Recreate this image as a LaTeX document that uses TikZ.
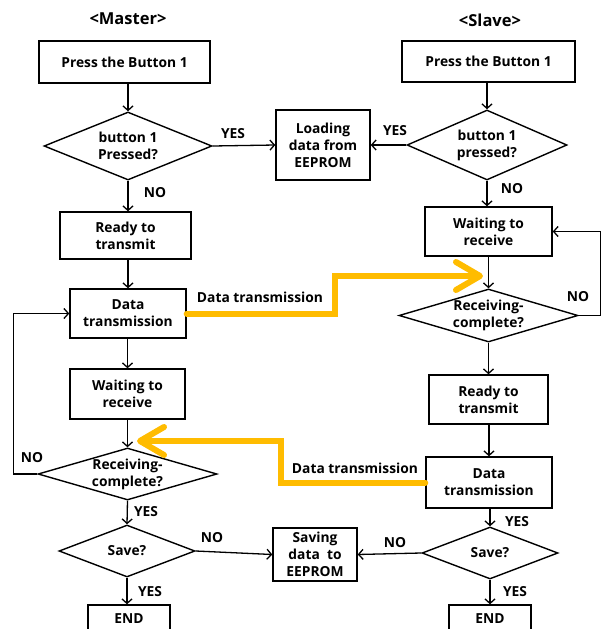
\documentclass[tikz,border=0pt]{standalone}
\usepackage{fontspec}
\setmainfont{Open Sans}[BoldFont={* Bold}]
\usetikzlibrary{shapes.geometric,arrows.meta}
\definecolor{gold}{RGB}{255,188,0}
\begin{document}
\begin{tikzpicture}[x=1pt,y=-1pt,
  every node/.style={font=\fontsize{13.8}{17}\selectfont\bfseries},
  box/.style={draw,line width=1.4pt,inner sep=0pt,align=center},
  dia/.style={draw,diamond,line width=1.4pt,inner sep=0pt},
  dtext/.style={align=center,font=\fontsize{13.8}{17}\selectfont\bfseries},
  lbl/.style={inner sep=0pt},
  flow/.style={line width=1.3pt,-{Straight Barb[length=4.5pt,width=10pt,line width=1.3pt]}},
  xfer/.style={gold,line width=6pt,line cap=round,line join=miter,-{Straight Barb[length=24pt,width=28pt,round]}}]
\clip (0,0) rectangle (604,629);
\fill[white] (0,0) rectangle (604,629);
% headers
\node[lbl,font=\fontsize{16.5}{18}\selectfont\bfseries] (hm) at (128,19) {<Master>};
\node[lbl,font=\fontsize{16.5}{18}\selectfont\bfseries] (hs) at (490,20) {<Slave>};
% master column
\node[box,minimum width=171pt,minimum height=42pt] (mpress) at (124.5,62) {Press the Button 1};
\node[dia,minimum width=168pt,minimum height=68pt,label={[dtext]center:button 1\\Pressed?}] (mdia) at (128,146) {};
\node[box,minimum width=131pt,minimum height=47pt] (mready) at (125.5,235.5) {Ready to\\transmit};
\node[box,minimum width=116pt,minimum height=49pt] (mdata) at (128,313.5) {Data\\transmission};
\node[box,minimum width=115pt,minimum height=50pt] (mwait) at (127.5,394) {Waiting to\\receive};
\node[dia,minimum width=179pt,minimum height=52pt,label={[dtext]center:Receiving-\\complete?}] (mrecv) at (127.5,474) {};
\node[dia,minimum width=136pt,minimum height=52pt,label={[dtext]center:Save?}] (msave) at (127,551) {};
\node[box,minimum width=82pt,minimum height=40pt] (mend) at (129,625) {};
\node[lbl] (mendt) at (129,619) {END};
% middle boxes
\node[box,minimum width=94pt,minimum height=70pt] (load) at (323,145) {Loading\\data from\\EEPROM};
\node[box,minimum width=84pt,minimum height=53pt] (saving) at (315,554.5) {Saving\\data\ \ to\\EEPROM};
% slave column
\node[box,minimum width=173pt,minimum height=41pt] (spress) at (488.5,61.5) {Press the Button 1};
\node[dia,minimum width=160pt,minimum height=70pt,label={[dtext]center:button 1\\pressed?}] (sdia) at (487,145) {};
\node[box,minimum width=127pt,minimum height=49pt] (swait) at (488.5,231.5) {Waiting to\\receive};
\node[dia,minimum width=179pt,minimum height=53pt,label={[dtext]center:Receiving-\\complete?}] (srecv) at (488.5,315.5) {};
\node[box,minimum width=119pt,minimum height=49pt] (sready) at (488.5,399.5) {Ready to\\transmit};
\node[box,minimum width=126pt,minimum height=51pt] (sdata) at (489,482.5) {Data\\transmission};
\node[dia,minimum width=136pt,minimum height=52pt,label={[dtext]center:Save?}] (ssave) at (490,553) {};
\node[box,minimum width=82pt,minimum height=40pt] (send) at (490,625) {};
\node[lbl] (sendt) at (490,619) {END};
% labels
\node[lbl] (y1) at (233,134) {YES};
\node[lbl] (y2) at (395,131) {YES};
\node[lbl] (n1) at (155,193) {NO};
\node[lbl] (n2) at (512,189) {NO};
\node[lbl] (n3) at (578,297) {NO};
\node[lbl] (dt1) at (260,297) {Data transmission};
\node[lbl] (n4) at (32,458) {NO};
\node[lbl] (y3) at (146,512) {YES};
\node[lbl] (n5) at (212,538) {NO};
\node[lbl] (y4) at (150,592) {YES};
\node[lbl] (dt2) at (355,468) {Data transmission};
\node[lbl] (y5) at (517,522) {YES};
\node[lbl] (n6) at (395,543) {NO};
\node[lbl] (y6) at (515,592) {YES};
% master connectors
\draw[flow] (mdia.north |- mpress.south) -- (mdia.north);
\draw[flow] (mdia.east) -- (load.west);
\draw[flow] (mdia.south) -- (mdia.south |- mready.north);
\draw[flow] (mdata.north |- mready.south) -- (mdata.north);
\draw[flow] (mwait.north |- mdata.south) -- (mwait.north);
\draw[flow] (mrecv.north |- mwait.south) -- (mrecv.north);
\draw[flow] (mrecv.west) -- ++(-24,0) |- (mdata.west);
\draw[flow] (mrecv.south) -- (msave.north);
\draw[flow] (msave.south) -- (msave.south |- mend.north);
\draw[flow] (msave.east) -- (saving.west);
% slave connectors
\draw[flow] (sdia.north |- spress.south) -- (sdia.north);
\draw[flow] (sdia.west) -- (load.east);
\draw[flow] (sdia.south) -- (sdia.south |- swait.north);
\draw[flow] (srecv.north |- swait.south) -- (srecv.north);
\draw[flow] (srecv.east) -- ++(21.5,0) |- (swait.east);
\draw[flow] (srecv.south) -- (srecv.south |- sready.north);
\draw[flow] (sdata.north |- sready.south) -- (sdata.north);
\draw[flow] (ssave.north |- sdata.south) -- (ssave.north);
\draw[flow] (ssave.west) -- (saving.east);
\draw[flow] (ssave.south) -- (ssave.south |- send.north);
% data transfer arrows
\coordinate (t1) at (483,276);
\coordinate (t2) at (137,441);
\draw[xfer] (mdata.east) -- (335,313.5) -- (335,276) -- (t1);
\draw[xfer] (sdata.west) -- (281,482.5) -- (281,441) -- (t2);
\end{tikzpicture}
\end{document}
